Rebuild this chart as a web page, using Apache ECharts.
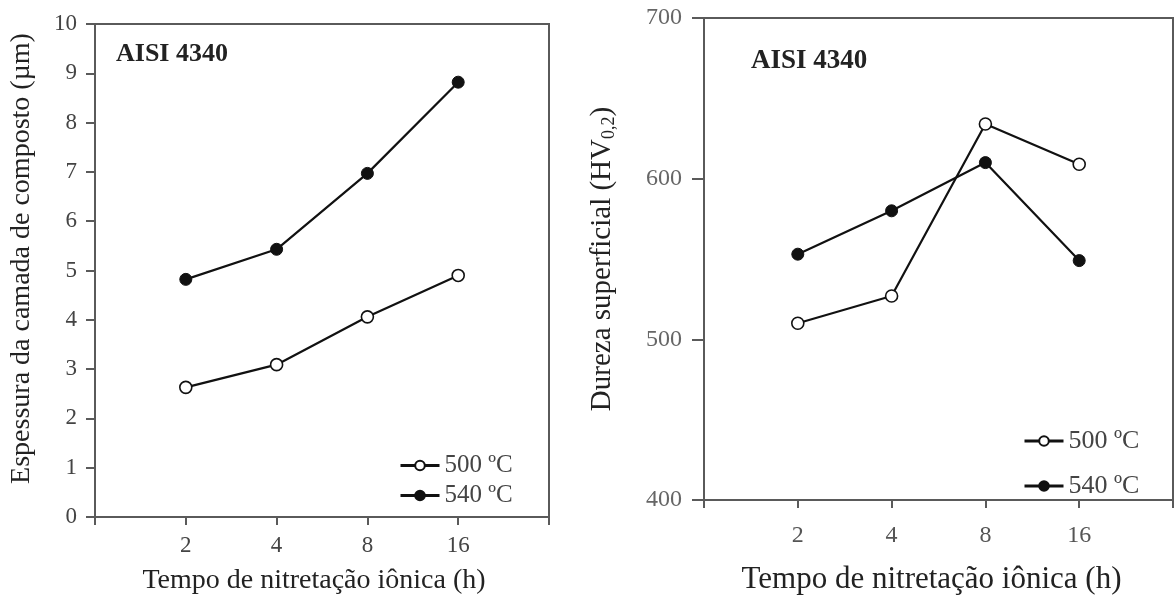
<!DOCTYPE html>
<html>
<head>
<meta charset="utf-8">
<script src="https://cdn.jsdelivr.net/npm/echarts@6/dist/echarts.min.js"></script>
<style>
html,body{margin:0;padding:0;background:#fff;}
#c{width:1176px;height:600px;}
</style>
</head>
<body>
<div id="c"></div>
<script>
// ---- data ----
const hours = ['2', '4', '8', '16'];
const seriesNames = ['500 ºC', '540 ºC'];
const thickness500 = [2.63, 3.09, 4.06, 4.90];
const thickness540 = [4.82, 5.43, 6.97, 8.82];
const hardness500 = [510, 527, 634, 609];
const hardness540 = [553, 580, 610, 549];
const thicknessTicks = [0, 10, 1];   // min, max, interval
const hardnessTicks = [400, 700, 100];
const labelTitle = 'AISI 4340';
const xTitle = 'Tempo de nitretação iônica (h)';
const yTitleLeft = 'Espessura da camada de composto (µm)';
const yTitleRight = 'Dureza superficial (HV{sub|0,2})';

const FONT = "'Liberation Serif','Times New Roman',serif";
const AX = '#5a5a5a';
const TXT = '#444';

function pts(vals) { return vals.map((v, i) => [i + 1, v]); }
function xLabel(v) { return (v >= 1 && v <= hours.length) ? hours[v - 1] : ''; }

const openStyle = { color: '#fff', borderColor: '#111', borderWidth: 1.6 };
const fillStyle = { color: '#111', borderColor: '#111', borderWidth: 1 };

function mkSeries(name, vals, idx, open) {
  return {
    name: name, type: 'line', xAxisIndex: idx, yAxisIndex: idx,
    data: pts(vals), symbol: 'circle', symbolSize: 12,
    lineStyle: { color: '#111', width: 2.2 },
    itemStyle: open ? openStyle : fillStyle,
    z: 5
  };
}

function xAxis(idx, fs, margin, gap, nfs, pad, col) {
  return {
    type: 'value', gridIndex: idx, min: 0, max: 5, interval: 1,
    axisLine: { show: true, onZero: false, lineStyle: { color: AX, width: 2 } },
    axisTick: { show: true, inside: false, length: 8, lineStyle: { color: AX, width: 2 } },
    axisLabel: { formatter: xLabel, fontFamily: FONT, fontSize: fs, color: col, margin: margin },
    splitLine: { show: false },
    name: xTitle, nameLocation: 'middle', nameGap: gap,
    nameTextStyle: { fontFamily: FONT, fontSize: nfs, color: '#222', padding: pad }
  };
}

const option = {
  backgroundColor: '#fff',
  animation: false,
  grid: [
    { left: 95, top: 24, width: 454, height: 493, show: true, borderColor: AX, borderWidth: 2 },
    { left: 704, top: 18, width: 471, height: 487, show: true, borderColor: AX, borderWidth: 2 }
  ],
  xAxis: [
    xAxis(0, 23, 17, 50, 28, [0, 16, 0, 0], TXT),
    xAxis(1, 24, 24, 64, 31, [0, 14, 0, 0], '#555')
  ],
  yAxis: [
    {
      type: 'value', gridIndex: 0, min: thicknessTicks[0], max: thicknessTicks[1], interval: thicknessTicks[2],
      axisLine: { show: true, lineStyle: { color: AX, width: 2 } },
      axisTick: { show: true, length: 9, lineStyle: { color: AX, width: 2 } },
      axisLabel: { fontFamily: FONT, fontSize: 23, color: TXT, margin: 18 },
      splitLine: { show: false },
      name: yTitleLeft, nameLocation: 'middle', nameGap: 59,
      nameTextStyle: { fontFamily: FONT, fontSize: 28, color: '#222', padding: [0, 0, 0, 24] }
    },
    {
      type: 'value', gridIndex: 1, min: hardnessTicks[0], max: hardnessTicks[1], interval: hardnessTicks[2],
      axisLine: { show: true, lineStyle: { color: AX, width: 2 } },
      axisTick: { show: true, length: 12, lineStyle: { color: AX, width: 2 } },
      axisLabel: { fontFamily: FONT, fontSize: 24, color: '#666', margin: 22 },
      splitLine: { show: false },
      name: yTitleRight, nameLocation: 'middle', nameGap: 86,
      nameTextStyle: {
        fontFamily: FONT, fontSize: 29, color: '#222', lineHeight: 32,
        rich: { sub: { fontFamily: FONT, fontSize: 18, lineHeight: 16, verticalAlign: 'bottom', color: '#222' } }
      }
    }
  ],
  legend: [
    {
      orient: 'vertical', left: 394, top: 448, itemWidth: 39, itemHeight: 12, itemGap: 5,
      data: seriesNames,
      textStyle: { fontFamily: FONT, fontSize: 25, color: TXT },
      lineStyle: { width: 3 }
    },
    {
      orient: 'vertical', left: 1018, top: 423, itemWidth: 39, itemHeight: 12, itemGap: 19,
      data: seriesNames,
      textStyle: { fontFamily: FONT, fontSize: 26, color: TXT },
      lineStyle: { width: 3 }
    }
  ],
  graphic: [
    { type: 'text', left: 116, top: 41, style: { text: labelTitle, font: 'bold 26px ' + FONT, fill: '#222' } },
    { type: 'text', left: 751, top: 48, style: { text: labelTitle, font: 'bold 27px ' + FONT, fill: '#222' } }
  ],
  series: [
    mkSeries(seriesNames[0], thickness500, 0, true),
    mkSeries(seriesNames[1], thickness540, 0, false),
    mkSeries(seriesNames[0], hardness500, 1, true),
    mkSeries(seriesNames[1], hardness540, 1, false)
  ]
};

const chart = echarts.init(document.getElementById('c'), null, { renderer: 'canvas' });
chart.setOption(option);
</script>
</body>
</html>
